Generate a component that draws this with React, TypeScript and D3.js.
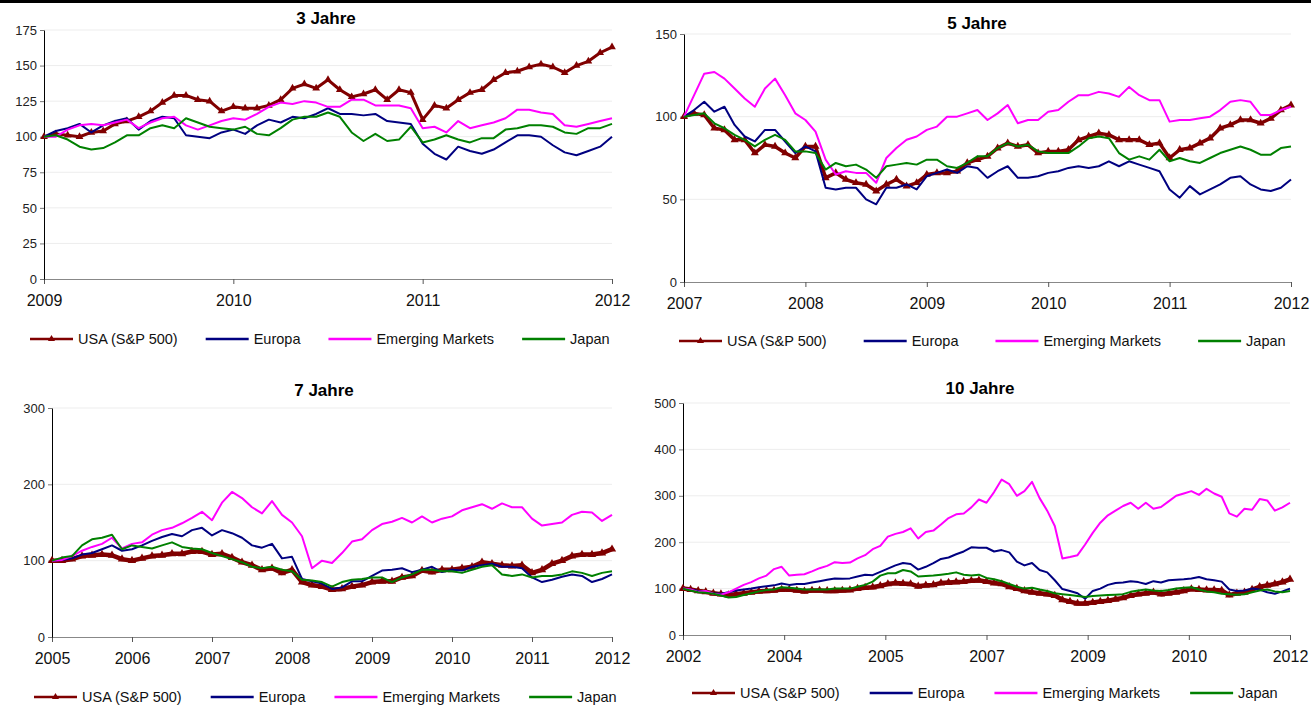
import React, { useEffect, useRef } from 'react';
import * as d3 from 'd3';

const seriesNames = ['USA (S&P 500)', 'Europa', 'Emerging Markets', 'Japan'];
const seriesColors = ['#800000', '#000080', '#ff00ff', '#008000'];

// 3 Jahre (2009 - 2012)
const years3 = ['2009', '2010', '2011', '2012'];
const usa3 = [100,102,101,100,103,104,109,111,114,118,124,129,129,126,125,118,121,120,120,122,126,134,137,134,140,133,128,130,133,126,133,131,112,122,120,126,131,133,140,145,146,149,151,149,145,150,153,159,163];
const eur3 = [100,104,106,109,103,108,111,113,105,111,114,113,101,100,99,103,105,102,108,112,110,114,113,116,120,116,116,115,116,111,110,109,95,88,84,93,90,88,91,96,101,101,100,94,89,87,90,93,100];
const em3 = [100,100,105,108,109,108,110,112,106,110,113,114,108,105,108,111,113,112,116,121,124,123,125,124,121,121,126,126,122,122,122,120,106,107,103,111,106,108,110,113,119,119,117,116,108,107,109,111,113];
const jap3 = [100,101,98,93,91,92,96,101,101,106,108,106,113,110,107,106,105,107,102,101,106,112,114,114,117,114,103,97,102,97,98,107,96,98,101,98,96,99,99,105,106,108,108,107,103,102,106,106,109];

// 5 Jahre (2007 - 2012)
const years5 = ['2007', '2008', '2009', '2010', '2011', '2012'];
const usa5 = [100,102,101,93,92,86,86,78,83,82,78,75,82,82,63,66,62,60,59,55,59,62,58,60,65,66,66,67,72,74,76,81,84,82,83,78,79,79,80,86,88,90,89,86,86,86,83,84,75,80,81,84,87,93,95,98,98,96,99,104,107];
const eur5 = [100,104,109,103,106,95,88,85,92,92,85,78,82,79,57,56,57,57,50,47,57,57,59,56,64,66,68,66,70,69,63,67,70,63,63,64,66,67,69,70,69,70,73,70,73,71,69,67,56,51,58,53,56,59,63,64,59,56,55,57,62];
const em5 = [100,113,126,127,123,117,111,106,117,123,113,102,98,91,74,65,67,66,66,60,75,81,86,88,92,94,100,100,102,104,98,102,107,96,98,98,103,104,109,113,113,115,114,112,118,113,110,110,97,98,98,99,100,104,109,110,109,101,101,104,106];
const jap5 = [100,101,102,96,93,89,86,82,86,89,86,79,79,78,68,72,70,71,68,63,70,71,72,71,74,74,70,69,72,76,76,81,84,82,83,79,78,78,78,82,87,88,87,78,74,76,74,80,73,75,73,72,75,78,80,82,80,77,77,81,82];

// 7 Jahre (2005 - 2012)
const years7 = ['2005', '2006', '2007', '2008', '2009', '2010', '2011', '2012'];
const usa7 = [100,100,102,106,107,108,107,102,100,103,106,107,109,109,112,112,108,109,104,98,94,88,90,84,88,72,68,66,62,63,66,68,72,73,73,78,80,87,85,88,88,90,92,98,96,94,93,94,84,88,96,100,106,108,108,110,115];
const eur7 = [100,101,103,108,110,115,120,113,115,120,126,131,135,132,140,143,133,140,136,130,120,117,122,103,105,76,73,70,63,65,73,73,80,87,88,90,85,88,92,85,88,87,92,94,96,92,92,90,78,72,75,79,82,80,72,76,82];
const em7 = [100,101,106,113,118,122,130,116,122,124,134,140,143,149,156,164,153,176,190,182,170,162,178,160,150,132,90,100,97,110,125,128,140,148,151,156,150,158,150,155,158,166,170,174,168,175,170,170,155,146,148,150,160,164,163,152,160];
const jap7 = [100,104,106,120,128,130,134,115,120,118,116,120,124,118,116,115,110,106,102,98,92,90,92,88,86,75,74,72,66,72,75,76,78,78,72,78,82,88,88,86,86,84,88,92,94,82,80,82,78,80,80,82,86,84,80,84,86];

// 10 Jahre (2002 - 2012)
const years10 = ['2002', '2004', '2005', '2007', '2009', '2010', '2012'];
const usa10 = [100,98,95,93,90,88,86,88,90,92,94,95,96,98,98,96,94,96,96,95,95,96,97,100,102,103,106,110,112,111,110,105,107,108,112,113,114,115,117,118,115,112,110,104,100,95,92,90,88,85,76,72,68,68,70,72,74,77,80,85,88,90,92,88,90,92,95,99,98,97,97,96,86,90,92,98,104,107,110,114,120];
const eur10 = [100,98,95,93,90,89,92,96,98,100,103,105,107,111,108,110,110,113,116,119,122,121,122,126,130,129,136,143,150,155,153,141,147,155,164,167,174,180,189,188,188,180,183,178,158,150,155,140,135,118,99,95,90,78,95,100,108,112,113,116,114,110,116,113,118,119,120,122,125,120,118,115,98,95,96,100,98,92,89,94,100];
const em10 = [100,98,93,95,89,87,92,100,108,114,122,128,142,147,128,130,131,137,144,149,157,155,156,165,172,185,192,212,218,222,230,208,222,225,238,252,260,262,275,292,285,308,335,325,300,310,330,295,268,235,165,168,172,195,220,242,258,268,278,285,272,285,272,276,288,300,305,310,302,315,305,298,262,255,272,270,293,290,268,275,285];
const jap10 = [100,96,92,91,89,85,81,82,86,90,94,97,98,103,102,100,98,98,98,98,100,100,100,104,108,115,128,133,133,140,137,126,127,128,130,132,135,130,128,130,123,120,116,110,104,100,102,98,95,90,88,86,84,82,84,85,86,87,88,93,96,98,96,95,97,100,102,103,98,94,92,89,88,87,88,92,96,98,94,92,95];

const FONT = '"Liberation Sans", Arial, sans-serif';

const panels = [
  { title: '3 Jahre', years: years3, yMax: 175, yStep: 25, series: [usa3, eur3, em3, jap3],
    left: 44, right: 612, top: 30, bottom: 279, titleX: 326, titleY: 18,
    legendX: 30, legendY: 339, legendGap: 28, marker: 26, usaW: 3 },
  { title: '5 Jahre', years: years5, yMax: 150, yStep: 50, series: [usa5, eur5, em5, jap5],
    left: 684, right: 1291, top: 34, bottom: 282, titleX: 977, titleY: 23,
    legendX: 679, legendY: 341, legendGap: 37, marker: 28, usaW: 3.5 },
  { title: '7 Jahre', years: years7, yMax: 300, yStep: 100, series: [usa7, eur7, em7, jap7],
    left: 52, right: 612, top: 408, bottom: 637, titleX: 324, titleY: 390,
    legendX: 34, legendY: 697, legendGap: 29, marker: 30, usaW: 4.5 },
  { title: '10 Jahre', years: years10, yMax: 500, yStep: 100, series: [usa10, eur10, em10, jap10],
    left: 683, right: 1290, top: 403, bottom: 635, titleX: 980, titleY: 388,
    legendX: 692, legendY: 693, legendGap: 30, marker: 30, usaW: 4.5 },
];

export default function App() {
  const svgRef = useRef<SVGSVGElement>(null);

  useEffect(() => {
    if (!svgRef.current) return;
    const svg = d3.select(svgRef.current);
    svg.selectAll('*').remove();

    // black rule at the top of the page
    svg.append('rect').attr('x', 0).attr('y', 0).attr('width', 1311).attr('height', 3).attr('fill', '#000');

    const tri = d3.symbol().type(d3.symbolTriangle);

    panels.forEach(p => {
      const g = svg.append('g');
      const y = d3.scaleLinear().domain([0, p.yMax]).range([p.bottom, p.top]);
      const x = d3.scaleLinear().domain([0, p.series[0].length - 1]).range([p.left, p.right]);
      const xTick = d3.scaleLinear().domain([0, p.years.length - 1]).range([p.left, p.right]);
      const yTicks = d3.range(0, p.yMax + 1, p.yStep);

      // gridlines
      g.selectAll('line.grid')
        .data(yTicks.filter(t => t > 0))
        .join('line')
        .attr('class', 'grid')
        .attr('x1', p.left).attr('x2', p.right)
        .attr('y1', d => y(d)).attr('y2', d => y(d))
        .attr('stroke', '#ededed');

      // x axis
      const xa = g.append('g')
        .attr('transform', `translate(0,${p.bottom})`)
        .call(d3.axisBottom(xTick)
          .tickValues(d3.range(p.years.length))
          .tickFormat(i => p.years[i as number])
          .tickSize(5).tickSizeOuter(0).tickPadding(11));
      xa.select('.domain').attr('stroke', '#888');
      xa.selectAll('.tick line').attr('stroke', '#555');
      xa.selectAll('.tick text').attr('font-family', FONT).attr('font-size', 16).attr('fill', '#111');

      // y axis
      const ya = g.append('g')
        .attr('transform', `translate(${p.left},0)`)
        .call(d3.axisLeft(y).tickValues(yTicks).tickSize(4).tickSizeOuter(0).tickPadding(3));
      ya.select('.domain').attr('stroke', '#000');
      ya.selectAll('.tick line').attr('stroke', '#777');
      ya.selectAll('.tick text').attr('font-family', FONT).attr('font-size', 13).attr('fill', '#222');

      // title
      g.append('text')
        .attr('x', p.titleX).attr('y', p.titleY)
        .attr('dy', '0.35em')
        .attr('text-anchor', 'middle')
        .attr('font-family', FONT).attr('font-size', 17).attr('font-weight', 'bold')
        .text(p.title);

      // series (later ones drawn on top)
      const line = d3.line<number>().x((_, i) => x(i)).y(d => y(d));
      p.series.forEach((vals, si) => {
        g.append('path')
          .datum(vals)
          .attr('d', line)
          .attr('fill', 'none')
          .attr('stroke', seriesColors[si])
          .attr('stroke-width', si === 0 ? p.usaW : 2)
          .attr('stroke-linejoin', 'round');
        if (si === 0) {
          g.selectAll('path.mk')
            .data(vals)
            .join('path')
            .attr('class', 'mk')
            .attr('d', tri.size(p.marker)())
            .attr('transform', (d, i) => `translate(${x(i)},${y(d)})`)
            .attr('fill', seriesColors[0]);
        }
      });

      // legend
      let lx = p.legendX;
      seriesNames.forEach((name, si) => {
        g.append('line')
          .attr('x1', lx).attr('x2', lx + 43)
          .attr('y1', p.legendY).attr('y2', p.legendY)
          .attr('stroke', seriesColors[si]).attr('stroke-width', 2.5);
        if (si === 0) {
          g.append('path')
            .attr('d', tri.size(22)())
            .attr('transform', `translate(${lx + 21.5},${p.legendY})`)
            .attr('fill', seriesColors[0]);
        }
        const t = g.append('text')
          .attr('x', lx + 48).attr('y', p.legendY)
          .attr('dy', '0.35em')
          .attr('font-family', FONT).attr('font-size', 14.5).attr('fill', '#111')
          .text(name);
        const w = (t.node() as SVGTextElement).getComputedTextLength();
        lx += 48 + w + p.legendGap;
      });
    });
  }, []);

  return (
    <svg
      ref={svgRef}
      width={1311}
      height={706}
      style={{ position: 'absolute', left: 0, top: 0, background: '#fff' }}
    />
  );
}
